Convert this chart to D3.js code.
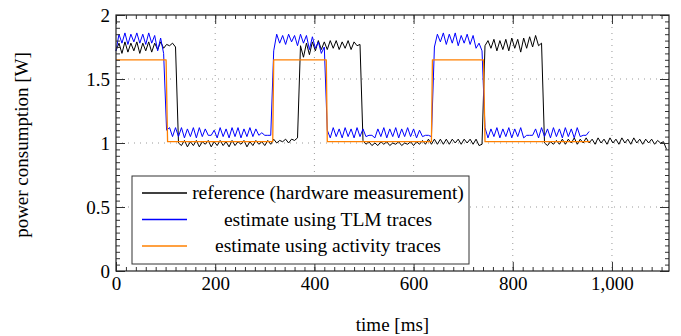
<!DOCTYPE html>
<html>
<head>
<meta charset="utf-8">
<script src="https://cdn.jsdelivr.net/npm/d3@7"></script>
<style>
    body { margin: 0; background: #fff; }
    text { font-family: "Liberation Serif", "Times New Roman", serif; fill: #000; }
</style>
</head>
<body>
<div id="chart"></div>
<script>
// samples every 6 ms, one row = 60 ms
var sampleStep = 6;

var referencePower = [
    1.72, 1.78, 1.70, 1.79, 1.71, 1.78, 1.72, 1.79, 1.70, 1.78,   // 0
    1.72, 1.79, 1.71, 1.78, 1.73, 1.79, 1.74, 1.77, 1.76, 1.78,   // 60
    1.75, 1.00, 0.98, 1.02, 0.97, 1.01, 0.98, 1.02, 0.97, 1.01,   // 120
    0.99, 1.02, 0.97, 1.01, 0.98, 1.02, 0.98, 1.01, 0.97, 1.02,   // 180
    0.98, 1.01, 0.99, 1.02, 0.97, 1.01, 0.98, 1.02, 0.99, 1.01,   // 240
    0.98, 1.02, 0.99, 1.03, 1.00, 1.02, 1.01, 1.03, 1.00, 1.03,   // 300
    1.02, 1.04, 1.76, 1.67, 1.78, 1.69, 1.79, 1.72, 1.80, 1.73,   // 360
    1.79, 1.73, 1.80, 1.74, 1.80, 1.73, 1.79, 1.74, 1.80, 1.73,   // 420
    1.79, 1.76, 1.77, 1.02, 0.99, 1.01, 0.98, 1.00, 0.98, 1.01,   // 480
    0.99, 1.01, 0.98, 1.00, 0.99, 1.01, 0.98, 1.00, 0.99, 1.01,   // 540
    0.98, 1.01, 0.99, 1.02, 0.99, 1.03, 0.99, 1.03, 0.99, 1.03,   // 600
    0.99, 1.03, 0.99, 1.03, 1.00, 1.03, 0.99, 1.03, 1.00, 1.03,   // 660
    0.99, 1.03, 0.98, 0.99, 1.76, 1.80, 1.74, 1.81, 1.72, 1.80,   // 720
    1.73, 1.81, 1.72, 1.82, 1.74, 1.81, 1.71, 1.82, 1.74, 1.83,   // 780
    1.75, 1.84, 1.76, 1.78, 1.00, 0.98, 1.01, 0.99, 1.02, 0.99,   // 840
    1.03, 0.99, 1.03, 1.00, 1.04, 0.99, 1.03, 1.00, 1.04, 1.00,   // 900
    1.03, 0.99, 1.04, 1.00, 1.03, 0.99, 1.04, 1.00, 1.03, 0.99,   // 960
    1.04, 1.00, 1.03, 0.99, 1.04, 1.00, 1.03, 0.99, 1.03, 1.00,   // 1020
    1.03, 0.99, 1.02, 1.00, 1.01, 0.95                            // 1080
];

var tlmPower = [
    1.72, 1.85, 1.78, 1.86, 1.77, 1.85, 1.79, 1.86, 1.78, 1.85,   // 0
    1.77, 1.86, 1.78, 1.84, 1.72, 1.82, 1.70, 1.10, 1.12, 1.05,   // 60
    1.12, 1.05, 1.12, 1.04, 1.11, 1.05, 1.12, 1.04, 1.12, 1.05,   // 120
    1.11, 1.06, 1.06, 1.10, 1.04, 1.12, 1.05, 1.11, 1.04, 1.12,   // 180
    1.05, 1.12, 1.04, 1.11, 1.05, 1.12, 1.05, 1.11, 1.06, 1.08,   // 240
    1.06, 1.06, 1.06, 1.72, 1.85, 1.78, 1.84, 1.77, 1.85, 1.79,   // 300
    1.84, 1.76, 1.85, 1.78, 1.84, 1.73, 1.83, 1.74, 1.79, 1.70,   // 360
    1.75, 1.10, 1.04, 1.12, 1.05, 1.11, 1.04, 1.12, 1.05, 1.11,   // 420
    1.04, 1.12, 1.05, 1.11, 1.05, 1.06, 1.06, 1.04, 1.11, 1.05,   // 480
    1.12, 1.04, 1.11, 1.05, 1.12, 1.04, 1.11, 1.05, 1.12, 1.05,   // 540
    1.11, 1.04, 1.10, 1.05, 1.06, 1.06, 1.05, 1.75, 1.85, 1.79,   // 600
    1.86, 1.77, 1.85, 1.78, 1.86, 1.76, 1.84, 1.78, 1.85, 1.77,   // 660
    1.84, 1.74, 1.78, 1.72, 1.12, 1.04, 1.11, 1.05, 1.12, 1.04,   // 720
    1.11, 1.05, 1.12, 1.04, 1.11, 1.05, 1.12, 1.04, 1.06, 1.06,   // 780
    1.06, 1.11, 1.04, 1.12, 1.05, 1.11, 1.04, 1.12, 1.05, 1.11,   // 840
    1.04, 1.12, 1.05, 1.11, 1.04, 1.12, 1.05, 1.06, 1.06, 1.09    // 900
];

// activity trace is a step signal, given by its corners
var activityTime  = [0, 101, 104, 316, 318, 424, 426, 636, 638, 741, 744, 956];
var activityPower = [1.65, 1.65, 1.01, 1.01, 1.65, 1.65, 1.01, 1.01, 1.65, 1.65, 1.01, 1.01];

var xTicks = [0, 200, 400, 600, 800, 1000];
var yTicks = [0, 0.5, 1, 1.5, 2];
var legendLabels = [
    "reference (hardware measurement)",
    "estimate using TLM traces",
    "estimate using activity traces"
];
var seriesColors = ["#000000", "#0000ff", "#ff8000"];

var margin = { top: 15, right: 12, bottom: 65, left: 116 };
var width = 681 - margin.left - margin.right;
var height = 336 - margin.top - margin.bottom;

var svg = d3.select("#chart").append("svg")
    .attr("width", 681)
    .attr("height", 336);

var g = svg.append("g")
    .attr("transform", "translate(" + margin.left + "," + margin.top + ")");

var x = d3.scaleLinear().domain([0, 1115]).range([0, width]);
var y = d3.scaleLinear().domain([0, 2]).range([height, 0]);

// grid
g.append("g").selectAll("line.gx")
    .data(xTicks.slice(1))
    .enter().append("line")
    .attr("x1", function (d) { return x(d); })
    .attr("x2", function (d) { return x(d); })
    .attr("y1", 0).attr("y2", height)
    .attr("stroke", "#999").attr("stroke-dasharray", "1,5").attr("stroke-width", 1);
g.append("g").selectAll("line.gy")
    .data(yTicks.slice(1, -1))
    .enter().append("line")
    .attr("y1", function (d) { return y(d); })
    .attr("y2", function (d) { return y(d); })
    .attr("x1", 0).attr("x2", width)
    .attr("stroke", "#999").attr("stroke-dasharray", "1,5").attr("stroke-width", 1);

function toPoints(values) {
    return values.map(function (v, i) { return [i * sampleStep, v]; });
}

var line = d3.line()
    .x(function (d) { return x(d[0]); })
    .y(function (d) { return y(d[1]); });

var series = [
    toPoints(referencePower),
    toPoints(tlmPower),
    activityTime.map(function (t, i) { return [t, activityPower[i]]; })
];

g.selectAll("path.trace")
    .data(series)
    .enter().append("path")
    .attr("class", "trace")
    .attr("d", line)
    .attr("fill", "none")
    .attr("stroke", function (d, i) { return seriesColors[i]; })
    .attr("stroke-width", function (d, i) { return i == 2 ? 1.3 : 1; })
    .attr("stroke-linejoin", "round");

// axes, ticks pointing inward on all four sides
function styleAxis(sel) {
    sel.select(".domain").remove();
    sel.selectAll("line").attr("stroke", "#333");
    sel.selectAll("text")
        .style("font-family", "'Liberation Serif', serif")
        .style("font-size", "19px");
}

var xMinor = d3.range(0, 1101, 20);
var yMinor = d3.range(0, 2.001, 0.05);

g.append("g")
    .attr("transform", "translate(0," + height + ")")
    .call(d3.axisBottom(x).tickValues(xMinor).tickSize(-4).tickFormat(""))
    .call(styleAxis);
g.append("g")
    .call(d3.axisTop(x).tickValues(xMinor).tickSize(-4).tickFormat(""))
    .call(styleAxis);
g.append("g")
    .call(d3.axisLeft(y).tickValues(yMinor).tickSize(-4).tickFormat(""))
    .call(styleAxis);
g.append("g")
    .attr("transform", "translate(" + width + ",0)")
    .call(d3.axisRight(y).tickValues(yMinor).tickSize(-4).tickFormat(""))
    .call(styleAxis);

g.append("g")
    .attr("transform", "translate(0," + height + ")")
    .call(d3.axisBottom(x).tickValues(xTicks).tickSize(-9).tickPadding(6).tickFormat(d3.format(",")))
    .call(styleAxis);
g.append("g")
    .call(d3.axisTop(x).tickValues(xTicks).tickSize(-9).tickFormat(""))
    .call(styleAxis);
g.append("g")
    .call(d3.axisLeft(y).tickValues(yTicks).tickSize(-9).tickPadding(6).tickFormat(d3.format("")))
    .call(styleAxis);
g.append("g")
    .attr("transform", "translate(" + width + ",0)")
    .call(d3.axisRight(y).tickValues(yTicks).tickSize(-9).tickFormat(""))
    .call(styleAxis);

g.append("rect")
    .attr("x", 0).attr("y", 0)
    .attr("width", width).attr("height", height)
    .attr("fill", "none")
    .attr("stroke", "#222")
    .attr("stroke-width", 1.2);

// legend
var legend = svg.append("g").attr("transform", "translate(132,176)");
legend.append("rect")
    .attr("width", 337).attr("height", 88)
    .attr("fill", "#fff")
    .attr("stroke", "#333")
    .attr("stroke-width", 1);

var item = legend.selectAll("g.item")
    .data(legendLabels.map(function (label, i) { return { label: label, color: seriesColors[i] }; }))
    .enter().append("g")
    .attr("class", "item")
    .attr("transform", function (d, i) { return "translate(0," + (17 + i * 26.5) + ")"; });
item.append("path")
    .attr("d", "M10,0H55")
    .style("stroke", function (d) { return d.color; })
    .style("stroke-width", 1.6)
    .style("fill", "none");
item.append("text")
    .attr("x", 196)
    .attr("dy", "0.33em")
    .attr("text-anchor", "middle")
    .style("font-size", "19.5px")
    .text(function (d) { return d.label; });

// axis titles
svg.append("text")
    .attr("x", margin.left + width / 2)
    .attr("y", 331)
    .attr("text-anchor", "middle")
    .style("font-size", "19px")
    .text("time [ms]");

svg.append("text")
    .attr("transform", "translate(28," + (margin.top + height / 2 + 2) + ") rotate(-90)")
    .attr("text-anchor", "middle")
    .style("font-size", "19px")
    .text("power consumption [W]");
</script>
</body>
</html>
